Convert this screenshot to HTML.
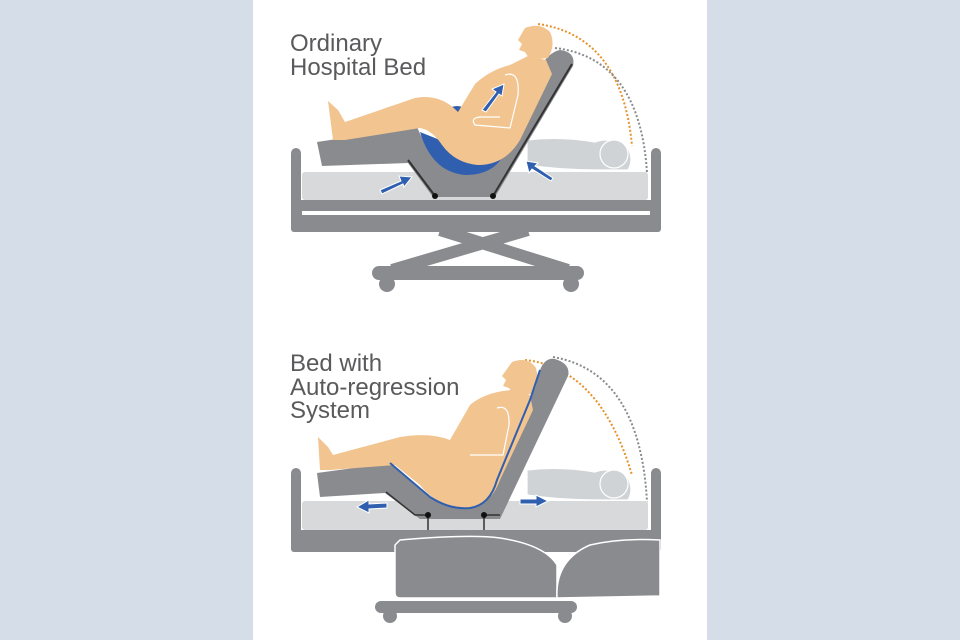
<!DOCTYPE html>
<html><head><meta charset="utf-8"><style>
html,body{margin:0;padding:0;width:960px;height:640px;overflow:hidden;background:#d5dee8}
svg{display:block}
text{font-family:"Liberation Sans",sans-serif;fill:#5a5a5c;font-size:24px}
</style></head><body>
<svg width="960" height="640" viewBox="0 0 960 640">
<rect x="0" y="0" width="960" height="640" fill="#d5dee8"/>
<rect x="253" y="0" width="454" height="640" fill="#fff"/>

<!-- ===== TOP ===== -->
<text x="290" y="51">Ordinary</text>
<text x="290" y="75">Hospital Bed</text>

<path d="M538,24 Q622,36 632,146" fill="none" stroke="#e8912c" stroke-width="2" stroke-dasharray="2,2"/>
<path d="M555,48 Q640,58 647,173" fill="none" stroke="#8a8b8f" stroke-width="2" stroke-dasharray="2,2"/>

<!-- scissor + base -->
<line x1="440" y1="230" x2="568" y2="270" stroke="#8a8b8f" stroke-width="12"/>
<line x1="528" y1="230" x2="392" y2="270" stroke="#8a8b8f" stroke-width="12"/>
<rect x="372" y="266" width="212" height="14" rx="7" fill="#8a8b8f"/>
<circle cx="387" cy="284" r="8" fill="#8a8b8f"/>
<circle cx="571" cy="284" r="8" fill="#8a8b8f"/>

<!-- frame -->
<rect x="291" y="148" width="10" height="84" rx="5" fill="#8a8b8f"/>
<rect x="651" y="148" width="10" height="84" rx="5" fill="#8a8b8f"/>
<rect x="291" y="200" width="370" height="32" rx="3" fill="#8a8b8f"/>
<rect x="302" y="211" width="348" height="4" fill="#fff"/>
<rect x="302" y="172" width="346" height="28" rx="3" fill="#d7d9da"/>

<!-- ghost person -->
<path d="M527,140 Q560,136 595,142 Q605,138 615,142 L628,148 Q634,160 628,170 L595,170 Q560,170 527,165 Z" fill="#d0d3d5" stroke="#fff" stroke-width="1.2"/>
<circle cx="614" cy="154" r="14" fill="#d0d3d5" stroke="#fff" stroke-width="1.2"/>

<!-- seat -->
<path d="M317,142 L417,127 Q430,160 460,170 Q492,170 502,148 L537,72 Q548,52 560,50 Q576,52 573,66 L495,197 L433,197 L408,163 L322,166 Z" fill="#8a8b8f"/>
<line x1="408" y1="160" x2="435" y2="196" stroke="#333" stroke-width="2"/>
<line x1="493" y1="196" x2="572" y2="64" stroke="#333" stroke-width="2"/>
<circle cx="435" cy="196" r="3" fill="#111"/>
<circle cx="493" cy="196" r="3" fill="#111"/>

<!-- blue cushion -->
<path d="M420,132 Q432,172 465,175 Q495,175 505,152 L533,82 L538,72 L525,80 L490,150 Q470,160 440,140 Z" fill="#2f5fae"/>
<ellipse cx="457" cy="128" rx="17" ry="22" fill="#2f5fae"/>

<!-- person -->
<path d="M528,56 L546,60 L552,74 L520,140 Q505,165 478,165 Q455,163 442,145 Q432,130 420,128 L345,140 L333,140 L328,101 L338,110 L345,122 L415,98 Q440,93 458,112 L475,84 Q490,70 510,65 Z" fill="#f2c48f"/>
<path d="M525,28 Q540,22 550,32 Q556,45 548,58 L530,60 L525,52 L519,50 L522,44 L518,40 Z" fill="#f2c48f"/>
<path d="M505,75 Q520,70 518,95 L510,128 L475,125 Q470,118 480,117 L500,117" fill="none" stroke="#fff" stroke-width="1.2"/>
<g stroke="#fff" stroke-width="1" fill="#2f5fae">
<path d="M380,190 L401,181 L399,176 L412,177 L404,187 L403,184 L382,194 Z"/>
<path d="M551,181 L532,169 L529,173 L526,161 L538,163 L535,166 L553,178 Z"/>
<path d="M482,110 L496,92 L492,89 L504,84 L502,96 L499,94 L486,112 Z"/>
</g>

<!-- ===== BOTTOM ===== -->
<text x="290" y="371">Bed with</text>
<text x="290" y="395">Auto-regression</text>
<text x="290" y="418">System</text>

<path d="M525,360 Q600,368 632,475" fill="none" stroke="#e8912c" stroke-width="2" stroke-dasharray="2,2"/>
<path d="M553,357 Q640,372 647,502" fill="none" stroke="#8a8b8f" stroke-width="2" stroke-dasharray="2,2"/>

<rect x="375" y="601" width="202" height="12" rx="6" fill="#8a8b8f"/>
<circle cx="390" cy="616" r="7" fill="#8a8b8f"/>
<circle cx="565" cy="616" r="7" fill="#8a8b8f"/>

<rect x="291" y="468" width="10" height="84" rx="5" fill="#8a8b8f"/>
<rect x="651" y="468" width="10" height="75" rx="5" fill="#8a8b8f"/>
<rect x="291" y="530" width="370" height="22" rx="3" fill="#8a8b8f"/>
<rect x="302" y="501" width="346" height="29" rx="3" fill="#d7d9da"/>

<path d="M400,540 Q470,534 500,538 Q545,545 557,565 L557,598 L400,598 Q395,598 395,593 L395,545 Z" fill="#8a8b8f" stroke="#fff" stroke-width="1.5"/>
<path d="M557,598 Q555,560 590,545 Q620,538 660,540 L660,596 L557,598 Z" fill="#8a8b8f" stroke="#fff" stroke-width="1.5"/>

<path d="M527,470 Q560,466 595,472 Q605,468 615,472 L628,478 Q634,490 628,500 L595,500 Q560,500 527,495 Z" fill="#d0d3d5" stroke="#fff" stroke-width="1.2"/>
<circle cx="614" cy="484" r="14" fill="#d0d3d5" stroke="#fff" stroke-width="1.2"/>

<path d="M317,473 L390,463 Q410,480 430,497 Q450,510 470,508 Q490,505 497,480 L530,400 L540,370 Q545,357 555,359 Q571,364 568,376 L500,519 L420,519 L385,493 L320,497 Z" fill="#8a8b8f"/>
<path d="M386,492 L415,515 L428,515 M428,515 L428,530 M484,515 L484,530 M484,515 L500,515" fill="none" stroke="#333" stroke-width="1.5"/>
<circle cx="428" cy="515" r="3" fill="#111"/>
<circle cx="484" cy="515" r="3" fill="#111"/>

<path d="M512,390 L530,395 L533,410 L500,480 Q490,508 462,508 Q435,505 420,485 L395,465 L330,470 L320,470 L318,437 L328,447 L333,455 L400,437 Q430,432 450,440 L470,405 Q485,392 512,390 Z" fill="#f2c48f"/>
<path d="M512,362 Q528,356 536,368 Q540,382 532,394 L514,395 L509,388 L503,386 L506,380 L502,376 Z" fill="#f2c48f"/>
<path d="M497,408 Q510,404 509,425 L503,455 L470,455" fill="none" stroke="#fff" stroke-width="1.2"/>
<path d="M390,463 Q410,480 430,497 Q450,510 470,508 Q490,505 497,480 L530,400 L540,370" fill="none" stroke="#2f5fae" stroke-width="2"/>

<g stroke="#fff" stroke-width="1" fill="#2f5fae">
<path d="M387,503 L369,504 L369,500 L357,507 L369,513 L369,509 L387,508 Z"/>
<path d="M520,499 L536,499 L536,495 L548,501 L536,507 L536,504 L520,504 Z"/>
</g>
</svg>
</body></html>
